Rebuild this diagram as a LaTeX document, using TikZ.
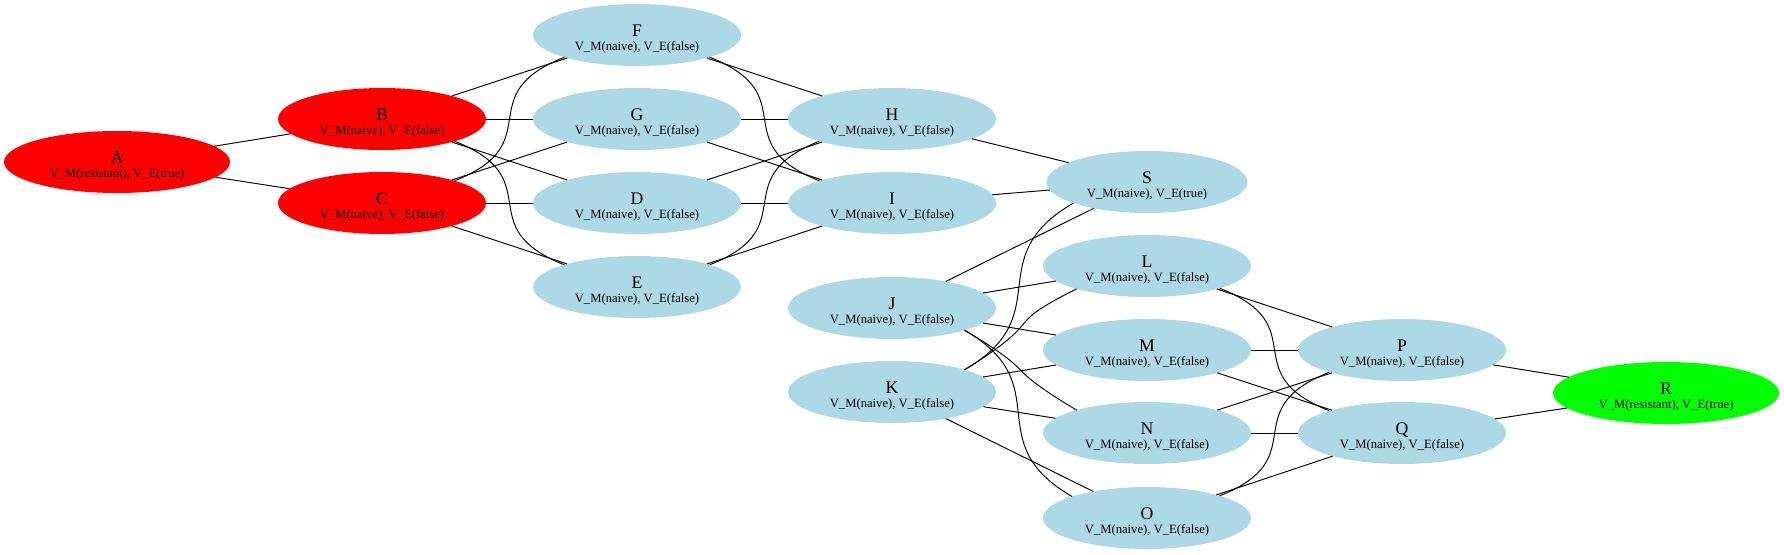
\documentclass[tikz,border=0pt]{standalone}
\usepackage{fontspec}
\setmainfont{Liberation Serif}
\usetikzlibrary{shapes.geometric}
\definecolor{lblue}{RGB}{173,216,230}
\definecolor{gvred}{RGB}{255,0,0}
\definecolor{gvgreen}{RGB}{0,255,0}
\newcommand{\gvlab}[2]{{\fontsize{17.7}{14}\selectfont #1}\\{\fontsize{12.65}{14}\selectfont #2}}
\begin{document}
\begin{tikzpicture}[x=1pt,y=-1pt,
  gv/.style={ellipse, inner sep=0pt, outer sep=0pt, minimum width=208pt,
    minimum height=62pt, align=center, fill=lblue,
    font=\fontsize{12.65}{14}\selectfont, text height=30pt, text depth=0pt},
  redn/.style={gv, fill=gvred},
  wide/.style={minimum width=226pt},
  conn/.style={line width=0.95pt, black}]
\useasboundingbox (0,0) rectangle (1784,554);
% nodes
\node[redn, wide] (A) at (117,162) {\gvlab{A}{V\_M(resistant), V\_E(true)}};
\node[redn] (B) at (382,119) {\gvlab{B}{V\_M(naive), V\_E(false)}};
\node[redn] (C) at (382,203) {\gvlab{C}{V\_M(naive), V\_E(false)}};
\node[gv] (F) at (637,35) {\gvlab{F}{V\_M(naive), V\_E(false)}};
\node[gv] (G) at (637,119) {\gvlab{G}{V\_M(naive), V\_E(false)}};
\node[gv] (D) at (637,203) {\gvlab{D}{V\_M(naive), V\_E(false)}};
\node[gv] (E) at (637,287) {\gvlab{E}{V\_M(naive), V\_E(false)}};
\node[gv] (H) at (892,119) {\gvlab{H}{V\_M(naive), V\_E(false)}};
\node[gv] (I) at (892,203) {\gvlab{I}{V\_M(naive), V\_E(false)}};
\node[gv] (J) at (892,308) {\gvlab{J}{V\_M(naive), V\_E(false)}};
\node[gv] (K) at (892,392) {\gvlab{K}{V\_M(naive), V\_E(false)}};
\node[gv, minimum width=201pt] (S) at (1147,182) {\gvlab{S}{V\_M(naive), V\_E(true)}};
\node[gv] (L) at (1147,266) {\gvlab{L}{V\_M(naive), V\_E(false)}};
\node[gv] (M) at (1147,350) {\gvlab{M}{V\_M(naive), V\_E(false)}};
\node[gv] (N) at (1147,433) {\gvlab{N}{V\_M(naive), V\_E(false)}};
\node[gv] (O) at (1147,518) {\gvlab{O}{V\_M(naive), V\_E(false)}};
\node[gv] (P) at (1402,350) {\gvlab{P}{V\_M(naive), V\_E(false)}};
\node[gv] (Q) at (1402,433) {\gvlab{Q}{V\_M(naive), V\_E(false)}};
\node[gv, wide, fill=gvgreen] (R) at (1666,393) {\gvlab{R}{V\_M(resistant), V\_E(true)}};
% straight connectors
\foreach \a/\b in {A/B, A/C, B/F, B/G, B/D, C/G, C/D, C/E, F/H, G/H, G/I, D/H, D/I, E/I,
  H/S, I/S, J/S, J/L, J/M, K/M, K/N, K/O, L/P, M/P, M/Q, N/P, N/Q, O/Q, P/R, Q/R}
  \draw[conn] (\a) -- (\b);
% curved connectors
\draw[conn] (B.-17) .. controls +(96,38) and +(-96,-38) .. (E.163);
\draw[conn] (C.17) .. controls +(96,-38) and +(-96,38) .. (F.-163);
\draw[conn] (F.-17) .. controls +(96,38) and +(-96,-38) .. (I.163);
\draw[conn] (E.17) .. controls +(96,-38) and +(-96,38) .. (H.-163);
\draw[conn] (L.-17) .. controls +(96,38) and +(-96,-38) .. (Q.163);
\draw[conn] (O.17) .. controls +(96,-38) and +(-96,38) .. (P.-163);
\draw[conn] (J.-17) .. controls +(95,55) and +(-95,-55) .. (O.164);
\draw[conn] (J.-17) .. controls +(80,48) and +(-80,-48) .. (N.162);
\draw[conn] (K.17) .. controls +(95,-55) and +(-95,55) .. (S.196);
\draw[conn] (K.17) .. controls +(88,-55) and +(-80,40) .. (L.198);
\end{tikzpicture}
\end{document}
